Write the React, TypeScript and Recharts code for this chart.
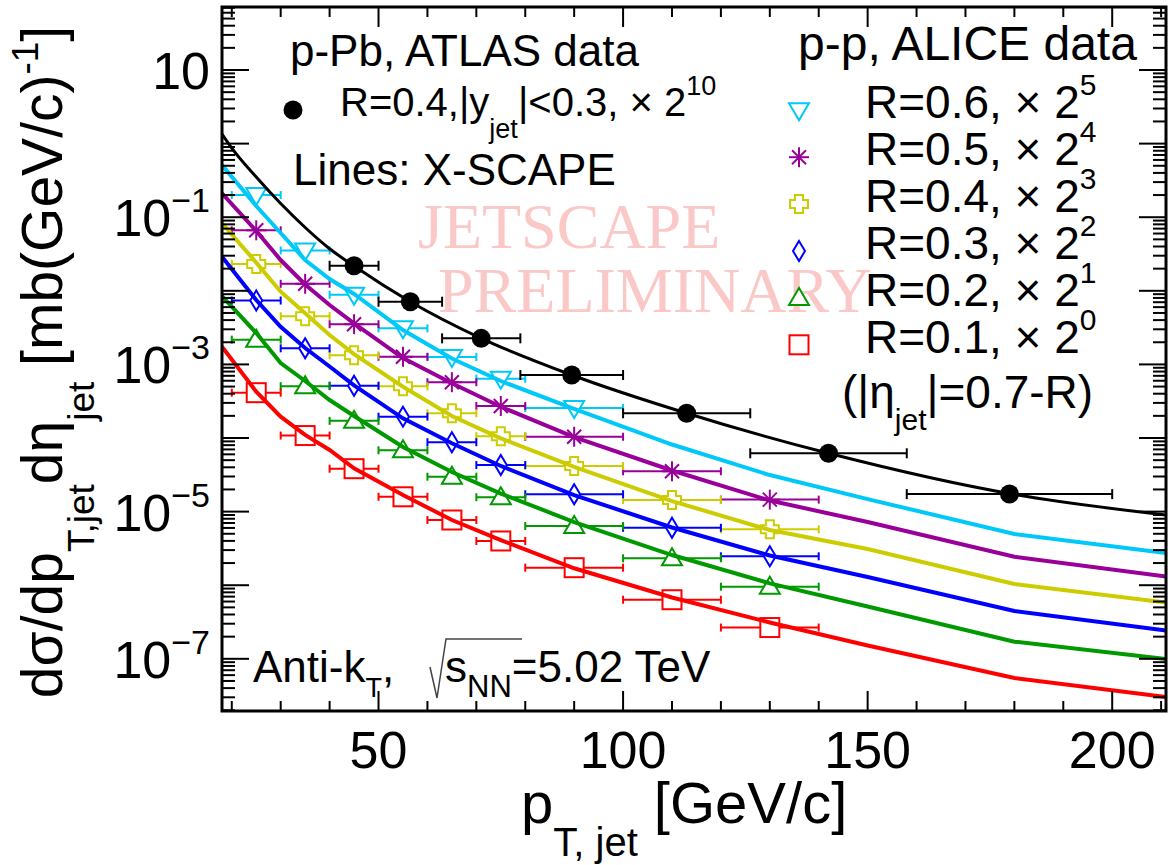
import React from "react";
import { ComposedChart, Line, Scatter, ErrorBar, XAxis, YAxis } from "recharts";

const FONT = '"Liberation Sans", Arial, Helvetica, sans-serif';
const SERIF = '"Liberation Serif", "Times New Roman", serif';

// ALICE p-p points: bin centres and half widths (GeV/c)
const aliceX = [25, 35, 45, 55, 65, 75, 90, 110, 130];
const aliceHalf = [5, 5, 5, 5, 5, 5, 10, 10, 10];
const r06 = [0.2, 0.0353, 8.85e-3, 3.09e-3, 1.26e-3, 6.4e-4, 2.56e-4];
const r05 = [6.64e-2, 1.245e-2, 3.52e-3, 1.27e-3, 5.73e-4, 2.72e-4, 1.04e-4, 3.53e-5, 1.455e-5];
const r04 = [2.31e-2, 4.52e-3, 1.33e-3, 5.04e-4, 2.17e-4, 1.06e-4, 4.17e-5, 1.44e-5, 5.75e-6];
const r03 = [7.38e-3, 1.655e-3, 5.14e-4, 1.95e-4, 8.77e-5, 4.3e-5, 1.72e-5, 6.03e-6, 2.47e-6];
const r02 = [2.17e-3, 5.06e-4, 1.71e-4, 6.81e-5, 2.98e-5, 1.57e-5, 6.37e-6, 2.32e-6, 9.54e-7];
const r01 = [4.13e-4, 1.08e-4, 3.83e-5, 1.59e-5, 7.69e-6, 3.99e-6, 1.73e-6, 6.35e-7, 2.66e-7];

// ATLAS p-Pb points
const atlasX = [45, 56.5, 71, 89.5, 113, 142, 179];
const atlasLow = [40, 50, 63, 79, 100, 126, 158];
const atlasHigh = [50, 63, 79, 100, 126, 158, 200];
const atlasY = [2.19e-2, 7.11e-3, 2.26e-3, 7.18e-4, 2.17e-4, 6.2e-5, 1.73e-5];

// X-SCAPE curves
const curveX = [18, 25, 30, 35, 40, 45, 55, 65, 75, 90, 110, 130, 150, 180, 211];
const cyanCurve = [0.512, 0.142, 0.061, 0.0262, 0.01446, 9.05e-3, 2.93e-3, 1.2e-3, 5.95e-4, 2.48e-4, 8.16e-5, 3.14e-5, 1.48e-5, 4.96e-6, 2.74e-6];
const purpleCurve = [0.211, 0.0649, 0.0262, 0.01218, 6.41e-3, 3.62e-3, 1.22e-3, 5.54e-4, 2.66e-4, 1.03e-4, 3.62e-5, 1.415e-5, 7.22e-6, 2.44e-6, 1.31e-6];
const yellowCurve = [0.0826, 0.0242, 9.72e-3, 4.95e-3, 2.51e-3, 1.38e-3, 4.98e-4, 1.99e-4, 9.91e-5, 4.04e-5, 1.39e-5, 5.62e-6, 3.1e-6, 1.04e-6, 5.82e-7];
const blueCurve = [0.0291, 7.5e-3, 3.25e-3, 1.67e-3, 9.37e-4, 5.2e-4, 1.85e-4, 8.47e-5, 4.17e-5, 1.68e-5, 6.08e-6, 2.53e-6, 1.29e-6, 4.46e-7, 2.42e-7];
const greenCurve = [8.5e-3, 2.67e-3, 1.045e-3, 5.95e-4, 3.28e-4, 1.99e-4, 7.55e-5, 3.45e-5, 1.76e-5, 7.22e-6, 2.57e-6, 1.06e-6, 5.14e-7, 1.71e-7, 9.94e-8];
const redCurve = [1.74e-3, 4.26e-4, 1.95e-4, 1.1e-4, 6.87e-5, 3.88e-5, 1.68e-5, 7.69e-6, 4.11e-6, 1.7e-6, 6.81e-7, 3.11e-7, 1.52e-7, 5.49e-8, 3.03e-8];
const blackCurveX = [18, 20, 25, 30, 35, 40, 45, 56.5, 71, 89.5, 113, 142, 180, 211];
const blackCurve = [1.35, 0.871, 0.352, 0.1535, 0.0725, 0.0373, 0.0217, 7.11e-3, 2.26e-3, 7.18e-4, 2.17e-4, 6.2e-5, 1.71e-5, 8.99e-6];

// axis ticks
const xTicks = [20, 30, 40, 50, 60, 70, 80, 90, 100, 110, 120, 130, 140, 150, 160, 170, 180, 190, 200, 210];
const decades = [-8, -7, -6, -5, -4, -3, -2, -1, 0, 1];
const Y_MIN = 1.954e-8;
const Y_MAX = 71.8;

const legendRows = [
  { label: "R=0.6, ", exp: "5", kind: "tridown", color: "#00c8f8" },
  { label: "R=0.5, ", exp: "4", kind: "star", color: "#990099" },
  { label: "R=0.4, ", exp: "3", kind: "cross", color: "#cccc00" },
  { label: "R=0.3, ", exp: "2", kind: "diamond", color: "#0000ff" },
  { label: "R=0.2, ", exp: "1", kind: "triup", color: "#009900" },
  { label: "R=0.1, ", exp: "0", kind: "square", color: "#ff0000" },
];

const PLOT = { left: 222, top: 7, right: 1166, bottom: 711 };

const yTicks: number[] = [];
decades.forEach((d) => {
  for (let m = 1; m <= 9; m++) {
    const v = m * Math.pow(10, d);
    if (v >= Y_MIN && v <= Y_MAX) yTicks.push(v);
  }
});

const Marker = ({ kind, cx, cy, color }: any) => {
  const sw = 2;
  if (kind === "tridown")
    return <polygon points={`${cx - 10},${cy - 7} ${cx + 10},${cy - 7} ${cx},${cy + 10}`} fill="#fff" stroke={color} strokeWidth={sw} />;
  if (kind === "triup")
    return <polygon points={`${cx - 10},${cy + 7} ${cx + 10},${cy + 7} ${cx},${cy - 10}`} fill="#fff" stroke={color} strokeWidth={sw} />;
  if (kind === "diamond")
    return <polygon points={`${cx},${cy - 10} ${cx + 6},${cy} ${cx},${cy + 10} ${cx - 6},${cy}`} fill="#fff" stroke={color} strokeWidth={sw} />;
  if (kind === "square")
    return <rect x={cx - 9.5} y={cy - 9.5} width={19} height={19} fill="#fff" stroke={color} strokeWidth={sw} />;
  if (kind === "cross") {
    const a = 9, t = 4;
    const d = `M${cx - t},${cy - a}H${cx + t}V${cy - t}H${cx + a}V${cy + t}H${cx + t}V${cy + a}H${cx - t}V${cy + t}H${cx - a}V${cy - t}H${cx - t}Z`;
    return <path d={d} fill="#fff" stroke={color} strokeWidth={sw} />;
  }
  if (kind === "star")
    return (
      <g stroke={color} strokeWidth={sw}>
        <line x1={cx} y1={cy - 10} x2={cx} y2={cy + 10} />
        <line x1={cx - 10} y1={cy} x2={cx + 10} y2={cy} />
        <line x1={cx - 7} y1={cy - 7} x2={cx + 7} y2={cy + 7} />
        <line x1={cx - 7} y1={cy + 7} x2={cx + 7} y2={cy - 7} />
      </g>
    );
  return <circle cx={cx} cy={cy} r={9.5} fill="#000" />;
};

const XTick = (props: any) => {
  const { x, payload } = props;
  const v = payload.value;
  const major = v % 50 === 0;
  const len = major ? 20 : 10;
  return (
    <g>
      <line x1={x} x2={x} y1={PLOT.bottom} y2={PLOT.bottom - len} stroke="#000" strokeWidth={2} />
      <line x1={x} x2={x} y1={PLOT.top} y2={PLOT.top + len} stroke="#000" strokeWidth={2} />
      {major && (
        <text x={x} y={768} textAnchor="middle" fontSize={52} fontFamily={FONT} fill="#000">
          {v}
        </text>
      )}
    </g>
  );
};

const YTick = (props: any) => {
  const { y, payload } = props;
  const lg = Math.log10(payload.value);
  const exp = Math.round(lg);
  const major = Math.abs(lg - exp) < 1e-6;
  const len = major ? 27 : 13;
  const showLabel = major && Math.abs(exp) % 2 === 1;
  return (
    <g>
      <line x1={PLOT.left} x2={PLOT.left + len} y1={y} y2={y} stroke="#000" strokeWidth={2} />
      <line x1={PLOT.right} x2={PLOT.right - len} y1={y} y2={y} stroke="#000" strokeWidth={2} />
      {showLabel && (
        <text x={210} y={y + 19} textAnchor="end" fontSize={52} fontFamily={FONT} fill="#000">
          10
          {exp !== 1 && (
            <tspan fontSize={34} dy={-24}>
              {"\u2212" + Math.abs(exp)}
            </tspan>
          )}
        </text>
      )}
    </g>
  );
};

const aliceSets = [
  { vals: r06, curve: cyanCurve, ...legendRows[0] },
  { vals: r05, curve: purpleCurve, ...legendRows[1] },
  { vals: r04, curve: yellowCurve, ...legendRows[2] },
  { vals: r03, curve: blueCurve, ...legendRows[3] },
  { vals: r02, curve: greenCurve, ...legendRows[4] },
  { vals: r01, curve: redCurve, ...legendRows[5] },
];

const atlasData = atlasX.map((x, i) => ({ x, y: atlasY[i], ex: [x - atlasLow[i], atlasHigh[i] - x] }));
const blackLine = blackCurveX.map((x, i) => ({ x, y: blackCurve[i] }));

export default function App() {
  return (
    <div style={{ position: "absolute", left: 0, top: 0, width: 1168, height: 865, background: "#fff" }}>
      <svg width={1168} height={865} style={{ position: "absolute", left: 0, top: 0 }}>
        <g fontFamily={SERIF} fontSize={64} fill="#fbc8c8">
          <text x={418} y={248}>JETSCAPE</text>
          <text x={438} y={312}>PRELIMINARY</text>
        </g>
      </svg>
      <div style={{ position: "absolute", left: 0, top: 0 }}>
        <ComposedChart width={1168} height={865} margin={{ top: 7, right: 2, bottom: 0, left: 0 }}>
          <XAxis
            type="number"
            dataKey="x"
            domain={[18, 211]}
            allowDataOverflow
            ticks={xTicks}
            interval={0}
            height={154}
            tickLine={false}
            axisLine={false}
            tick={(p: any) => <XTick {...p} />}
          />
          <YAxis
            type="number"
            dataKey="y"
            scale="log"
            domain={[Y_MIN, Y_MAX]}
            allowDataOverflow
            ticks={yTicks}
            interval={0}
            width={222}
            tickLine={false}
            axisLine={false}
            tick={(p: any) => <YTick {...p} />}
          />
          {aliceSets.map((s) => (
            <Scatter
              key={s.label}
              data={s.vals.map((y, i) => ({ x: aliceX[i], y, ex: aliceHalf[i] }))}
              isAnimationActive={false}
              shape={(p: any) => <Marker kind={s.kind} cx={p.cx} cy={p.cy} color={s.color} />}
            >
              <ErrorBar dataKey="ex" direction="x" width={4} stroke={s.color} strokeWidth={2} isAnimationActive={false} />
            </Scatter>
          ))}
          <Scatter data={atlasData} isAnimationActive={false} shape={(p: any) => <Marker kind="dot" cx={p.cx} cy={p.cy} />}>
            <ErrorBar dataKey="ex" direction="x" width={5} stroke="#000" strokeWidth={2} isAnimationActive={false} />
          </Scatter>
          {aliceSets.map((s) => (
            <Line
              key={"c" + s.label}
              data={curveX.map((x, i) => ({ x, y: s.curve[i] }))}
              dataKey="y"
              type="linear"
              stroke={s.color}
              strokeWidth={4}
              dot={false}
              isAnimationActive={false}
              zIndex={700}
            />
          ))}
          <Line data={blackLine} dataKey="y" type="monotone" stroke="#000" strokeWidth={3} dot={false} isAnimationActive={false} zIndex={700} />
        </ComposedChart>
      </div>
      <svg width={1168} height={865} style={{ position: "absolute", left: 0, top: 0, pointerEvents: "none" }} fontFamily={FONT} fill="#000">
        <rect x={PLOT.left} y={PLOT.top} width={PLOT.right - PLOT.left} height={PLOT.bottom - PLOT.top} fill="none" stroke="#000" strokeWidth={3} />
        {/* top-left block */}
        <text x={290} y={66} fontSize={44}>p-Pb, ATLAS data</text>
        <Marker kind="dot" cx={293} cy={110} />
        <text x={340} y={116} fontSize={40}>
          R=0.4,|y<tspan fontSize={27} dy={22}>jet</tspan>
          <tspan dy={-22}>|&lt;0.3, × 2</tspan>
          <tspan fontSize={27} dy={-21}>10</tspan>
        </text>
        <text x={293} y={185} fontSize={44}>Lines: X-SCAPE</text>
        {/* right block */}
        <text x={798} y={60} fontSize={48}>p-p, ALICE data</text>
        {legendRows.map((r, i) => {
          const base = 118.3 + i * 46.9;
          return (
            <g key={r.label}>
              <Marker kind={r.kind} cx={799} cy={base - 8} color={r.color} />
              <text x={865} y={base} fontSize={46}>
                {r.label}× 2<tspan fontSize={30} dy={-23}>{r.exp}</tspan>
              </text>
            </g>
          );
        })}
        <text x={842} y={408} fontSize={46}>
          (|η<tspan fontSize={30} dy={22}>jet</tspan>
          <tspan dy={-22}>|=0.7-R)</tspan>
        </text>
        {/* bottom-left */}
        <text x={253} y={682} fontSize={44}>
          Anti-k<tspan fontSize={27} dy={15}>T</tspan>
          <tspan dy={-15}>,</tspan>
        </text>
        <path d="M430,667 L437,698 L446,639 L522,639" fill="none" stroke="#444" strokeWidth={1.5} />
        <text x={445} y={682} fontSize={44}>
          s<tspan fontSize={31} dy={15}>NN</tspan>
          <tspan dy={-15}>=5.02 TeV</tspan>
        </text>
        {/* axis titles */}
        <text x={521} y={823} fontSize={58}>
          p<tspan fontSize={40} dy={33}>T, jet</tspan>
          <tspan dy={-33}> [GeV/c]</tspan>
        </text>
        <text transform="translate(62, 362) rotate(-90)" textAnchor="middle" fontSize={57}>
          dσ/dp<tspan fontSize={37} dy={32}>T,jet</tspan>
          <tspan dy={-32}>dη</tspan>
          <tspan fontSize={37} dy={32}>jet</tspan>
          <tspan dy={-32}> [mb(GeV/c)</tspan>
          <tspan fontSize={37} dy={-24}>-1</tspan>
          <tspan dy={24}>]</tspan>
        </text>
      </svg>
    </div>
  );
}
